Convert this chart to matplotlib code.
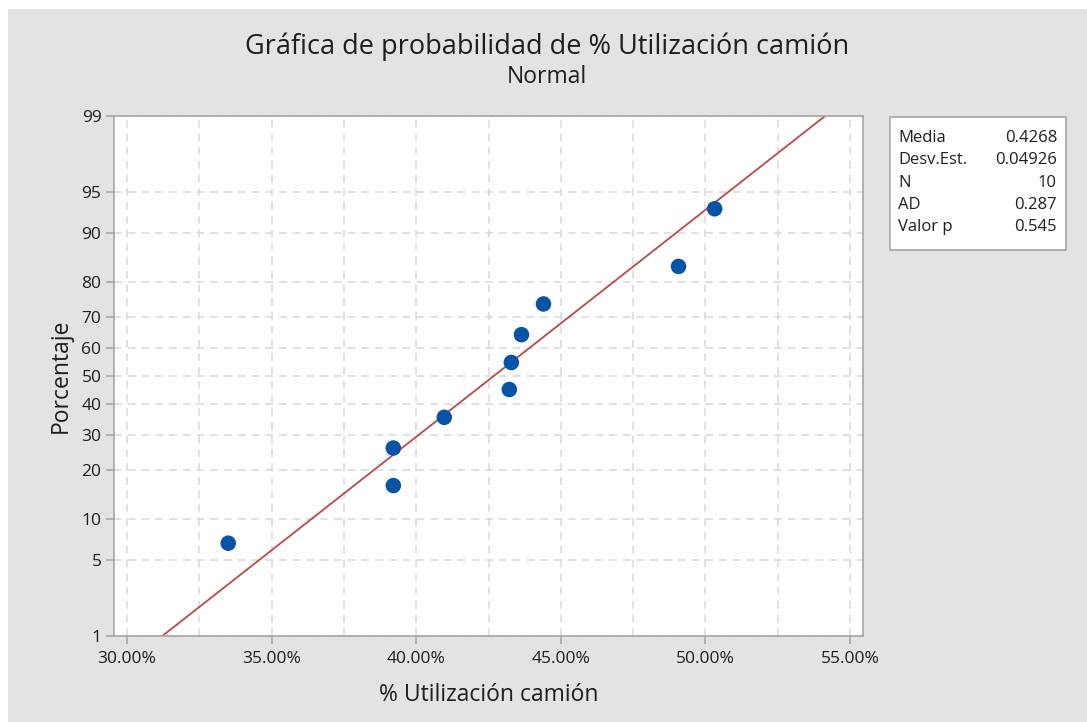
import numpy as np
import matplotlib
matplotlib.use("Agg")
import matplotlib.pyplot as plt
from matplotlib.patches import Rectangle
from matplotlib.ticker import FixedLocator, FuncFormatter, MultipleLocator
from statistics import NormalDist

# ---- data ----
utilizacion = [0.3350, 0.3921, 0.3921, 0.4097, 0.4322, 0.4329, 0.4364, 0.4440, 0.4907, 0.5032]
n = len(utilizacion)
porcentaje = [(i - 0.3) / (n + 0.4) * 100 for i in range(1, n + 1)]
media = 0.4268
desv_est = 0.04926
ad = 0.287
valor_p = 0.545
y_ticks = [1, 5, 10, 20, 30, 40, 50, 60, 70, 80, 90, 95, 99]
x_ticks = [0.30, 0.35, 0.40, 0.45, 0.50, 0.55]

plt.rcParams['font.family'] = ['Open Sans', 'DejaVu Sans']

nd = NormalDist()
_inv_cdf = np.vectorize(nd.inv_cdf, otypes=[float])
_cdf = np.vectorize(nd.cdf, otypes=[float])
def fwd(p):
    p = np.asarray(p, dtype=float)
    q = np.clip(p / 100.0, 1e-9, 1 - 1e-9)
    return _inv_cdf(q)
def inv(z):
    z = np.asarray(z, dtype=float)
    return _cdf(z) * 100

W, H = 1087, 722
txt = '#1e1e1e'
fig = plt.figure(figsize=(W / 100, H / 100), dpi=100, facecolor='white')
bg = '#e3e3e3'
fig.patches.append(Rectangle((8 / W, 0), 1 - 8 / W, 1 - 9 / H, transform=fig.transFigure,
                             facecolor=bg, edgecolor='none', zorder=-10))

ax = fig.add_axes([114 / W, (H - 636) / H, (863 - 114) / W, (636 - 116) / H])
ax.set_facecolor('white')
ax.set_yscale('function', functions=(fwd, inv))
ax.set_ylim(1, 99)
ax.set_xlim(0.2955, 0.5545)

ax.yaxis.set_major_locator(FixedLocator(y_ticks))
ax.yaxis.set_minor_locator(FixedLocator([]))
ax.xaxis.set_major_locator(FixedLocator(x_ticks))
ax.xaxis.set_minor_locator(MultipleLocator(0.025))
ax.yaxis.set_major_formatter(FuncFormatter(lambda v, p: f"{v:g}"))
ax.xaxis.set_major_formatter(FuncFormatter(lambda v, p: f"{v*100:.2f}%"))

gridc = '#d9d9d9'
ax.grid(True, which='major', axis='y', color=gridc, linestyle=(0, (5, 4)), linewidth=1.1)
ax.grid(True, which='both', axis='x', color=gridc, linestyle=(0, (5, 4)), linewidth=1.1)
ax.set_axisbelow(True)

for s in ax.spines.values():
    s.set_color('#a6a6a6')
    s.set_linewidth(1.2)
ax.tick_params(axis='both', which='major', length=6, color='#a6a6a6', labelsize=12.5,
               labelcolor=txt, width=1.2)
ax.tick_params(axis='x', which='minor', length=0)
ax.tick_params(axis='x', pad=5)
ax.tick_params(axis='y', pad=3)

# fitted line
pline = np.array([0.5, 99.5])
xline = media + desv_est * fwd(pline)
ax.plot(xline, pline, color='#b84a47', linewidth=1.3, zorder=2, clip_on=True)

ax.scatter(utilizacion, porcentaje, s=125, color='#0754a6', zorder=3, edgecolors='none')

ax.set_xlabel('% Utilización camión', fontsize=16.5, color=txt, labelpad=11, fontweight='medium')
ax.set_ylabel('Porcentaje', fontsize=16.5, color=txt, labelpad=6, fontweight='medium')

fig.text(0.503, 1 - 47 / H, 'Gráfica de probabilidad de % Utilización camión', ha='center', va='center',
         fontsize=19.5, color=txt, fontweight='medium')
fig.text(0.503, 1 - 77 / H, 'Normal', ha='center', va='center', fontsize=16.5, color=txt,
         fontweight='medium')

# stats box
bx0, by0, bx1, by1 = 890, 117, 1066, 250
fig.patches.append(Rectangle((bx0 / W, 1 - by1 / H), (bx1 - bx0) / W, (by1 - by0) / H,
                             transform=fig.transFigure, facecolor='white', edgecolor='#a6a6a6',
                             linewidth=1.2, zorder=1))
rows = [('Media', f'{media:.4f}'), ('Desv.Est.', f'{desv_est:.5f}'), ('N', f'{n}'),
        ('AD', f'{ad:.3f}'), ('Valor p', f'{valor_p:.3f}')]
for i, (k, v) in enumerate(rows):
    yy = 1 - (138 + i * 22.3) / H
    fig.text(898 / W, yy, k, ha='left', va='center', fontsize=12, color=txt)
    fig.text(1057 / W, yy, v, ha='right', va='center', fontsize=12, color=txt)

fig.savefig('out.png', dpi=100, facecolor=fig.get_facecolor())
